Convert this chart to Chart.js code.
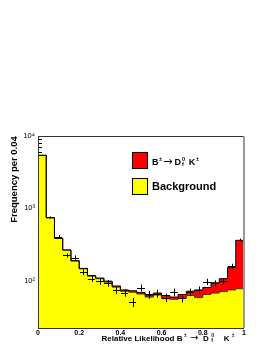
<!DOCTYPE html>
<html>
<head>
<meta charset="utf-8">
<script src="https://cdn.jsdelivr.net/npm/chart.js@4.4.0/dist/chart.umd.min.js"></script>
<style>
  html, body { margin: 0; padding: 0; background: #fff; }
  canvas { display: block; }
</style>
</head>
<body>
<canvas id="likelihoodChart" width="277" height="358"></canvas>
<script>
// histogram bin edges (bin width 0.04)
const binEdges = [0.00, 0.04, 0.08, 0.12, 0.16, 0.20, 0.24, 0.28, 0.32, 0.36,
                  0.40, 0.44, 0.48, 0.52, 0.56, 0.60, 0.64, 0.68, 0.72, 0.76,
                  0.80, 0.84, 0.88, 0.92, 0.96, 1.00];

// signal + background (red top)
const totalCounts = [5400, 740, 385, 265, 188, 147, 117, 108, 98, 84,
                     74, 72, 68, 63, 67, 62, 59, 64, 71, 74,
                     80, 93, 106, 152, 360];

// background only (yellow)
const backgroundCounts = [5390, 737, 383, 263, 186, 145, 115, 106, 95, 81,
                          71, 69, 65, 59, 63, 56, 55, 57, 62, 58,
                          64, 67, 70, 74, 77];

// data points (crosses)
const dataCenters = [0.02, 0.06, 0.10, 0.14, 0.18, 0.22, 0.26, 0.30, 0.34, 0.38,
                     0.42, 0.46, 0.50, 0.54, 0.58, 0.62, 0.66, 0.70, 0.74, 0.78,
                     0.82, 0.86, 0.90, 0.94, 0.98];
const dataCounts = [5450, 745, 405, 222, 208, 130, 106, 97, 92, 74,
                    68, 50, 79, 64, 66, 58, 69, 57, 69, 74,
                    96, 91, 98, 158, 360];

const xTickValues = [0, 0.2, 0.4, 0.6, 0.8, 1];
const yTickValues = [100, 1000, 10000];

const FONT = '"Liberation Sans", Arial, Helvetica, sans-serif';

function toSteps(values) {
    return binEdges.map((x, i) => ({ x: x, y: values[Math.min(i, values.length - 1)] }));
}

const supDigits = { '0': '⁰', '1': '¹', '2': '²', '3': '³', '4': '⁴', '5': '⁵' };

// draw text with small super/subscripts, returns end x
function drawRich(ctx, x, y, parts, size) {
    let cx = x;
    parts.forEach(p => {
        const txt = p[0], kind = p[1];
        if (kind === 'n') {
            ctx.font = 'bold ' + size + 'px ' + FONT;
            ctx.fillText(txt, cx, y);
            cx += ctx.measureText(txt).width;
        } else if (kind === 'gap') {
            cx += txt;
        } else if (kind === 'arrow') {
            ctx.font = (size * 1.25) + 'px "DejaVu Sans", sans-serif';
            ctx.fillText(txt, cx, y + size * 0.05);
            cx += ctx.measureText(txt).width;
        } else {
            ctx.font = 'bold ' + (size * 0.62) + 'px ' + FONT;
            ctx.fillText(txt, cx, y - size * 0.42);
            let w = ctx.measureText(txt).width;
            if (kind === 'supsub') {
                ctx.fillText(p[2], cx, y + size * 0.22);
                w = Math.max(w, ctx.measureText(p[2]).width);
            }
            cx += w;
        }
    });
    return cx;
}

function decayLabel(g) {
    return [['B', 'n'], [1 * g, 'gap'], ['±', 'sup'], [2 * g, 'gap'], ['→', 'arrow'], [3 * g, 'gap'],
            ['D', 'n'], [1.5 * g, 'gap'], ['0', 'supsub', 'f'], [6 * g, 'gap'], ['K', 'n'],
            [1.5 * g, 'gap'], ['±', 'sup']];
}

const decorations = {
    id: 'decorations',
    beforeDatasetsDraw(chart) {
        // ROOT style ticks inside the frame on the left axis
        const ctx = chart.ctx, y = chart.scales.y, a = chart.chartArea;
        ctx.save();
        ctx.strokeStyle = '#000';
        ctx.lineWidth = 1;
        for (let k = 1; k <= 4; k++) {
            for (let m = 1; m <= 9; m++) {
                const v = m * Math.pow(10, k);
                if (v < y.min || v > y.max) continue;
                const py = Math.round(y.getPixelForValue(v)) + 0.5;
                ctx.beginPath();
                ctx.moveTo(a.left, py);
                ctx.lineTo(a.left + (m === 1 ? 7 : 4), py);
                ctx.stroke();
            }
        }
        ctx.restore();
    },
    afterDatasetsDraw(chart) {
        const ctx = chart.ctx, xs = chart.scales.x, ys = chart.scales.y, a = chart.chartArea;
        ctx.save();
        // data points with error bars
        ctx.strokeStyle = '#000';
        ctx.lineWidth = 1;
        dataCenters.forEach((c, i) => {
            const v = dataCounts[i], err = Math.sqrt(v);
            const px = Math.round(xs.getPixelForValue(c)) + 0.5;
            const py = Math.round(ys.getPixelForValue(v)) + 0.5;
            ctx.beginPath();
            ctx.moveTo(Math.round(xs.getPixelForValue(c - 0.018)), py);
            ctx.lineTo(Math.round(xs.getPixelForValue(c + 0.018)), py);
            ctx.moveTo(px, ys.getPixelForValue(v + err));
            ctx.lineTo(px, ys.getPixelForValue(Math.max(v - err, 1)));
            ctx.stroke();
        });
        // frame
        ctx.strokeStyle = '#333';
        ctx.strokeRect(a.left + 0.5, a.top + 0.5, a.right - a.left - 1, a.bottom - a.top);
        ctx.strokeStyle = '#999';
        ctx.lineWidth = 2;
        ctx.beginPath();
        ctx.moveTo(a.right, a.top);
        ctx.lineTo(a.right, a.bottom);
        ctx.stroke();
        ctx.restore();
    },
    afterDraw(chart) {
        const ctx = chart.ctx;
        ctx.save();
        ctx.fillStyle = '#000';
        ctx.textBaseline = 'alphabetic';
        ctx.textAlign = 'left';

        // legend
        ctx.lineWidth = 1;
        ctx.strokeStyle = '#000';
        ctx.fillStyle = '#ff0000';
        ctx.fillRect(132, 152, 16, 17);
        ctx.strokeRect(132.5, 152.5, 15, 16);
        ctx.fillStyle = '#ffff00';
        ctx.fillRect(132, 178, 16, 17);
        ctx.strokeRect(132.5, 178.5, 15, 16);
        ctx.fillStyle = '#000';
        drawRich(ctx, 152, 164.5, decayLabel(0.6), 9);
        ctx.font = 'bold 11px ' + FONT;
        ctx.fillText('Background', 152, 189.5);

        // x title
        drawRich(ctx, 101.5, 340.5, [['Relative Likelihood ', 'n']].concat(decayLabel(1.6)), 8);

        // y title
        ctx.translate(14, 179.5);
        ctx.rotate(-Math.PI / 2);
        ctx.textAlign = 'center';
        ctx.textBaseline = 'middle';
        ctx.font = 'bold 9.5px ' + FONT;
        ctx.fillText('Frequency per 0.04', 0, 0);
        ctx.restore();
    }
};

new Chart(document.getElementById('likelihoodChart'), {
    type: 'line',
    data: {
        datasets: [
            {
                label: 'outline',
                data: toSteps(totalCounts),
                stepped: 'before',
                borderColor: '#000',
                borderWidth: 1,
                pointRadius: 0,
                fill: false,
                order: 0
            },
            {
                label: 'Background',
                data: toSteps(backgroundCounts),
                stepped: 'before',
                borderColor: '#3a3a00',
                borderWidth: 1,
                backgroundColor: '#ffff00',
                pointRadius: 0,
                fill: 'start',
                order: 1
            },
            {
                label: 'B± → D0 K±',
                data: toSteps(totalCounts),
                stepped: 'before',
                borderWidth: 0,
                borderColor: 'rgba(0,0,0,0)',
                backgroundColor: '#ff0000',
                pointRadius: 0,
                fill: 'start',
                order: 2
            }
        ]
    },
    options: {
        responsive: false,
        animation: false,
        devicePixelRatio: 1,
        layout: { padding: { top: 136, right: 33, left: 0, bottom: 0 } },
        plugins: {
            legend: { display: false },
            tooltip: { enabled: false }
        },
        scales: {
            x: {
                type: 'linear',
                min: 0,
                max: 1,
                afterBuildTicks: s => { s.ticks = xTickValues.map(v => ({ value: v })); },
                afterFit: s => { s.height = 30; },
                grid: { display: false, drawTicks: false },
                border: { display: false },
                ticks: {
                    padding: 1,
                    maxRotation: 0,
                    color: '#000',
                    font: { family: FONT, size: 7, weight: 'bold' },
                    callback: v => String(v)
                }
            },
            y: {
                type: 'logarithmic',
                min: 22,
                max: 10000,
                afterBuildTicks: s => { s.ticks = yTickValues.map(v => ({ value: v })); },
                afterFit: s => { s.width = 38; },
                grid: { display: false, drawTicks: false },
                border: { display: false },
                ticks: {
                    padding: 3,
                    color: '#000',
                    font: { family: FONT, size: 7.5 },
                    callback: v => '10' + supDigits[String(Math.round(Math.log10(v)))]
                }
            }
        }
    },
    plugins: [decorations]
});
</script>
</body>
</html>
